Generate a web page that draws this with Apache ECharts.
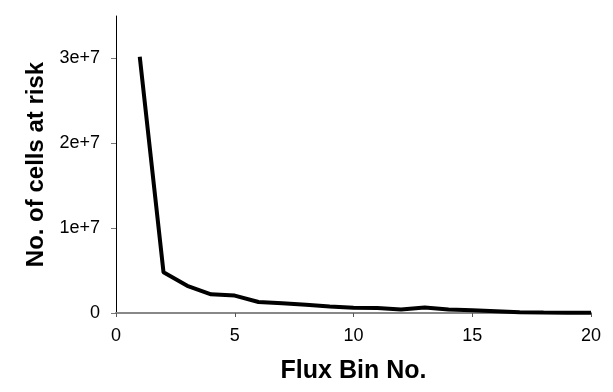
<!DOCTYPE html>
<html>
<head>
<meta charset="utf-8">
<script src="https://cdn.jsdelivr.net/npm/echarts@6/dist/echarts.min.js"></script>
<style>
  html, body { margin: 0; padding: 0; background: #fff; }
  #main { width: 613px; height: 392px; }
</style>
</head>
<body>
<div id="main"></div>
<script>
// flux bins and counts
var bins = [1, 2, 3, 4, 5, 6, 7, 8, 9, 10, 11, 12, 13, 14, 15, 16, 17, 18, 19, 20];
var cells = [30200000, 4800000, 3200000, 2200000, 2050000, 1300000, 1150000, 980000, 780000, 620000,
             600000, 420000, 640000, 420000, 320000, 200000, 80000, 50000, 40000, 30000];
var yTicks = [0, 10000000, 20000000, 30000000];

var chart = echarts.init(document.getElementById('main'));

var pts = [];
for (var i = 0; i < bins.length; i++) {
    pts.push([bins[i], cells[i]]);
}

var font = 'Liberation Sans, Arial, sans-serif';

chart.setOption({
    animation: false,
    backgroundColor: '#fff',
    grid: { left: 116, right: 22, top: 16, bottom: 79 },
    xAxis: {
        type: 'value',
        min: 0, max: 20, interval: 5,
        name: 'Flux Bin No.',
        nameLocation: 'middle',
        nameGap: 46,
        nameTextStyle: { fontFamily: font, fontSize: 25, fontWeight: 'bold', color: '#000' },
        axisLine: { lineStyle: { color: '#888', width: 2 } },
        axisTick: { length: 4, lineStyle: { color: '#555' } },
        axisLabel: { fontFamily: font, fontSize: 18, color: '#000', margin: 14 },
        splitLine: { show: false }
    },
    yAxis: {
        type: 'value',
        min: 0, max: 35000000,
        name: 'No. of cells at risk',
        nameLocation: 'middle',
        nameGap: 67,
        nameTextStyle: { fontFamily: font, fontSize: 24, fontWeight: 'bold', color: '#000' },
        axisLine: { show: true, lineStyle: { color: '#000', width: 1 } },
        axisTick: { show: true, length: 5, customValues: yTicks, lineStyle: { color: '#777' } },
        axisLabel: {
            fontFamily: font, fontSize: 18, color: '#000', margin: 16,
            customValues: yTicks,
            formatter: function (v) { return v === 0 ? '0' : v.toExponential(); }
        },
        splitLine: { show: false }
    },
    series: [{
        type: 'line',
        data: pts,
        showSymbol: false,
        lineStyle: { color: '#000', width: 4 }
    }]
});
</script>
</body>
</html>
